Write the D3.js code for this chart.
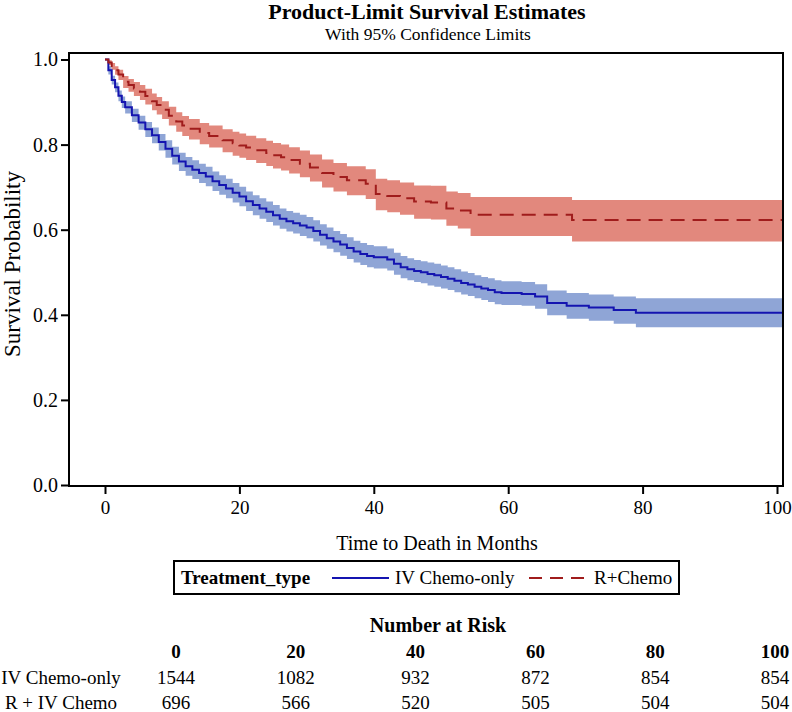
<!DOCTYPE html>
<html>
<head>
<meta charset="utf-8">
<script src="https://cdn.jsdelivr.net/npm/d3@7"></script>
<style>
  html, body { margin: 0; padding: 0; background: #fff; }
  svg { display: block; }
  text { font-family: "Liberation Serif", "Times New Roman", serif; fill: #000; }
</style>
</head>
<body>
<svg id="chart" width="792" height="712"></svg>
<script>
// ---------- data ----------
const chartTitle = "Product-Limit Survival Estimates";
const chartSubtitle = "With 95% Confidence Limits";
const xLabel = "Time to Death in Months";
const yLabel = "Survival Probability";
const legendTitle = "Treatment_type";
const groupNames = ["IV Chemo-only", "R+Chemo"];

const xTicks = [0, 20, 40, 60, 80, 100];
const yTicks = [0.0, 0.2, 0.4, 0.6, 0.8, 1.0];

// IV Chemo-only: Kaplan-Meier estimate with 95% confidence limits
const timesIV = [0, 0.5, 1, 1.5, 2, 2.5, 3, 4, 5, 6, 7, 8, 9, 10, 11, 12, 13, 14, 15, 16, 17, 18, 19, 20,
  21, 22, 23, 24, 25, 26, 27, 28, 29, 30, 31, 32, 33, 34, 35, 36, 37, 38, 39, 40, 42, 43, 44, 45, 46, 47,
  48, 49, 50, 51, 52, 53, 54, 55, 56, 57, 58, 59, 62, 64, 65.8, 68.7, 72, 75.7, 79, 101];
const survIV = [1.0, 0.975, 0.952, 0.935, 0.915, 0.900, 0.888, 0.869, 0.852, 0.836, 0.822, 0.806, 0.790, 0.774,
  0.760, 0.749, 0.741, 0.733, 0.725, 0.714, 0.705, 0.697, 0.687, 0.678, 0.667, 0.658, 0.650, 0.642, 0.634,
  0.626, 0.620, 0.615, 0.610, 0.605, 0.597, 0.588, 0.580, 0.572, 0.565, 0.557, 0.549, 0.543, 0.538, 0.535,
  0.530, 0.520, 0.512, 0.507, 0.503, 0.500, 0.496, 0.493, 0.489, 0.485, 0.480, 0.475, 0.471, 0.466, 0.462,
  0.458, 0.453, 0.451, 0.449, 0.443, 0.428, 0.421, 0.417, 0.411, 0.405, 0.405];
const lowerIV = [1.0, 0.965, 0.941, 0.923, 0.902, 0.886, 0.873, 0.853, 0.835, 0.818, 0.803, 0.786, 0.769, 0.753,
  0.738, 0.727, 0.719, 0.710, 0.702, 0.691, 0.682, 0.674, 0.664, 0.655, 0.644, 0.634, 0.626, 0.618, 0.610,
  0.602, 0.596, 0.591, 0.585, 0.580, 0.572, 0.563, 0.555, 0.547, 0.539, 0.531, 0.523, 0.517, 0.512, 0.509,
  0.504, 0.494, 0.486, 0.481, 0.477, 0.474, 0.469, 0.466, 0.462, 0.458, 0.453, 0.448, 0.444, 0.439, 0.435,
  0.430, 0.425, 0.423, 0.421, 0.414, 0.399, 0.391, 0.386, 0.379, 0.371, 0.371];
const upperIV = [1.0, 0.984, 0.962, 0.946, 0.927, 0.913, 0.902, 0.884, 0.868, 0.853, 0.840, 0.825, 0.810, 0.795,
  0.781, 0.771, 0.763, 0.755, 0.748, 0.737, 0.728, 0.720, 0.710, 0.701, 0.690, 0.681, 0.674, 0.666, 0.658,
  0.650, 0.644, 0.640, 0.635, 0.630, 0.622, 0.613, 0.605, 0.597, 0.590, 0.582, 0.574, 0.569, 0.564, 0.561,
  0.556, 0.546, 0.538, 0.533, 0.529, 0.526, 0.523, 0.520, 0.516, 0.512, 0.507, 0.502, 0.498, 0.493, 0.489,
  0.486, 0.481, 0.479, 0.477, 0.472, 0.457, 0.451, 0.448, 0.443, 0.439, 0.439];

// R + IV Chemo
const timesR = [0, 0.5, 1, 1.5, 2, 2.7, 3.5, 4.3, 5.2, 6, 7, 7.7, 8.5, 9.5, 10.6, 11.5, 12.5, 14.1, 15.5, 17.5,
  19, 20, 21, 22.5, 24, 25, 26.2, 27.4, 29, 30.5, 32.3, 34, 36, 38.8, 40.3, 42, 43.9, 46, 48.5, 50.8, 52.5,
  54.4, 69.5, 101];
const survR = [1.0, 0.993, 0.985, 0.975, 0.965, 0.948, 0.940, 0.932, 0.924, 0.914, 0.902, 0.893, 0.882, 0.868,
  0.854, 0.845, 0.837, 0.827, 0.820, 0.810, 0.803, 0.798, 0.793, 0.787, 0.780, 0.775, 0.770, 0.764, 0.755,
  0.746, 0.733, 0.724, 0.716, 0.708, 0.684, 0.679, 0.674, 0.666, 0.664, 0.650, 0.645, 0.635, 0.623, 0.623];
const lowerR = [1.0, 0.987, 0.976, 0.964, 0.952, 0.933, 0.924, 0.914, 0.905, 0.894, 0.881, 0.871, 0.860, 0.845,
  0.830, 0.820, 0.812, 0.801, 0.793, 0.782, 0.774, 0.769, 0.764, 0.757, 0.750, 0.744, 0.739, 0.732, 0.723,
  0.713, 0.699, 0.690, 0.681, 0.672, 0.646, 0.641, 0.635, 0.626, 0.624, 0.609, 0.603, 0.585, 0.572, 0.572];
const upperR = [1.0, 0.998, 0.992, 0.984, 0.976, 0.961, 0.954, 0.947, 0.940, 0.931, 0.920, 0.912, 0.902, 0.889,
  0.876, 0.867, 0.860, 0.851, 0.845, 0.836, 0.830, 0.826, 0.821, 0.815, 0.809, 0.804, 0.800, 0.794, 0.786,
  0.777, 0.765, 0.757, 0.749, 0.742, 0.720, 0.716, 0.711, 0.704, 0.703, 0.690, 0.686, 0.677, 0.670, 0.670];

// Number at risk table
const riskTitle = "Number at Risk";
const riskTimes = [0, 20, 40, 60, 80, 100];
const riskRowLabels = ["IV Chemo-only", "R + IV Chemo"];
const riskIV = [1544, 1082, 932, 872, 854, 854];
const riskR  = [696, 566, 520, 505, 504, 504];

// ---------- drawing ----------
const svg = d3.select("#chart");
const frame = { left: 69, right: 783, top: 53, bottom: 486 };

const x = d3.scaleLinear().domain([0, 100]).range([105, 777]);
const y = d3.scaleLinear().domain([0, 1]).range([485, 59.5]);

const colors = {
  ivLine: "#1414b0", ivBand: "#8fa5d6",
  rLine: "#a01c1c", rBand: "#e2887d"
};

svg.append("defs").append("clipPath").attr("id", "plotclip")
  .append("rect")
  .attr("x", frame.left).attr("y", frame.top)
  .attr("width", frame.right - frame.left).attr("height", frame.bottom - frame.top);

const plot = svg.append("g").attr("clip-path", "url(#plotclip)");

function toRows(t, s, lo, hi) {
  return t.map((d, i) => ({ t: d, s: s[i], lo: lo[i], hi: hi[i] }));
}
const ivRows = toRows(timesIV, survIV, lowerIV, upperIV);
const rRows = toRows(timesR, survR, lowerR, upperR);

const area = d3.area().curve(d3.curveStepAfter)
  .x(d => x(d.t)).y0(d => y(d.lo)).y1(d => y(d.hi));
const line = d3.line().curve(d3.curveStepAfter)
  .x(d => x(d.t)).y(d => y(d.s));

plot.append("path").datum(ivRows).attr("d", area).attr("fill", colors.ivBand);
plot.append("path").datum(rRows).attr("d", area).attr("fill", colors.rBand);
plot.append("path").datum(ivRows).attr("d", line)
  .attr("fill", "none").attr("stroke", colors.ivLine).attr("stroke-width", 2);
plot.append("path").datum(rRows).attr("d", line)
  .attr("fill", "none").attr("stroke", colors.rLine).attr("stroke-width", 2)
  .attr("stroke-dasharray", "14,8");

// frame
svg.append("rect")
  .attr("x", frame.left).attr("y", frame.top)
  .attr("width", frame.right - frame.left).attr("height", frame.bottom - frame.top)
  .attr("fill", "none").attr("stroke", "#000").attr("stroke-width", 2);

// axes
const yAxis = d3.axisLeft(y).tickValues(yTicks).tickFormat(d3.format(".1f"))
  .tickSize(8).tickSizeOuter(0);
const gy = svg.append("g").attr("transform", `translate(${frame.left},0)`).call(yAxis);
gy.select(".domain").remove();
gy.selectAll(".tick line").attr("stroke", "#000").attr("stroke-width", 2);
gy.selectAll(".tick text").attr("font-family", "Liberation Serif").attr("font-size", 20)
  .attr("x", -11).attr("fill", "#000");

const xAxis = d3.axisBottom(x).tickValues(xTicks).tickFormat(d3.format("d"))
  .tickSize(8).tickSizeOuter(0);
const gx = svg.append("g").attr("transform", `translate(0,${frame.bottom})`).call(xAxis);
gx.select(".domain").remove();
gx.selectAll(".tick line").attr("stroke", "#000").attr("stroke-width", 2);
gx.selectAll(".tick text").attr("font-family", "Liberation Serif").attr("font-size", 19)
  .attr("y", 15).attr("fill", "#000");

// titles
svg.append("text").attr("x", 427).attr("y", 19).attr("text-anchor", "middle")
  .attr("font-size", 22).attr("font-weight", "bold").text(chartTitle);
svg.append("text").attr("x", 428).attr("y", 40).attr("text-anchor", "middle")
  .attr("font-size", 17.5).text(chartSubtitle);
svg.append("text").attr("x", 437).attr("y", 550).attr("text-anchor", "middle")
  .attr("font-size", 20).text(xLabel);
svg.append("text").attr("transform", "translate(20,264) rotate(-90)")
  .attr("text-anchor", "middle").attr("font-size", 23).text(yLabel);

// legend
const lg = svg.append("g");
lg.append("rect").attr("x", 174).attr("y", 561).attr("width", 505).attr("height", 33)
  .attr("fill", "#fff").attr("stroke", "#000").attr("stroke-width", 2);
lg.append("text").attr("x", 181).attr("y", 584).attr("font-size", 19).attr("font-weight", "bold")
  .text(legendTitle);
lg.append("line").attr("x1", 332).attr("x2", 389).attr("y1", 578).attr("y2", 578)
  .attr("stroke", colors.ivLine).attr("stroke-width", 2);
lg.append("text").attr("x", 395).attr("y", 584).attr("font-size", 19).text(groupNames[0]);
lg.append("line").attr("x1", 529).attr("x2", 584).attr("y1", 578).attr("y2", 578)
  .attr("stroke", colors.rLine).attr("stroke-width", 2).attr("stroke-dasharray", "13,8");
lg.append("text").attr("x", 594).attr("y", 584).attr("font-size", 19).text(groupNames[1]);

// number at risk
const col = d3.scalePoint().domain(riskTimes).range([176, 775]);
svg.append("text").attr("x", 438).attr("y", 632).attr("text-anchor", "middle")
  .attr("font-size", 20).attr("font-weight", "bold").text(riskTitle);
svg.selectAll("text.rhead").data(riskTimes).enter().append("text").attr("class", "rhead")
  .attr("x", d => col(d)).attr("y", 658).attr("text-anchor", "middle")
  .attr("font-size", 19).attr("font-weight", "bold").text(d => d);
[riskIV, riskR].forEach((row, ri) => {
  const yy = 684 + ri * 25;
  svg.append("text").attr("x", 61).attr("y", yy).attr("text-anchor", "middle")
    .attr("font-size", 19).text(riskRowLabels[ri]);
  svg.selectAll(null).data(row).enter().append("text")
    .attr("x", (d, i) => col(riskTimes[i])).attr("y", yy).attr("text-anchor", "middle")
    .attr("font-size", 19).text(d => d);
});
</script>
</body>
</html>
